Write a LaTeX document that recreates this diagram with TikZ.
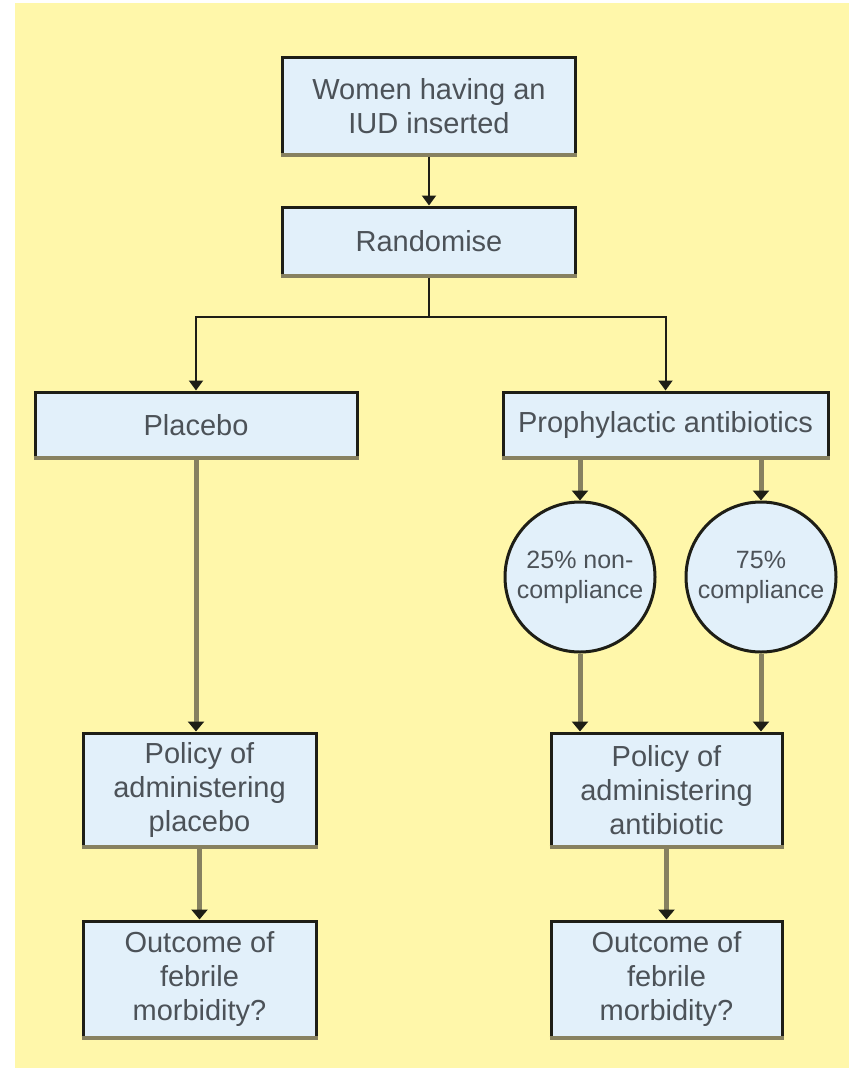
\documentclass[tikz,border=0pt]{standalone}
\usepackage{fontspec}
\setmainfont{Liberation Sans}
\usetikzlibrary{arrows.meta}
\definecolor{paper}{HTML}{FFF7AA}
\definecolor{boxfill}{HTML}{E2F0FA}
\definecolor{ink}{HTML}{1E1E16}
\definecolor{textgray}{HTML}{4C5258}
\definecolor{olive}{HTML}{878160}
\begin{document}
\begin{tikzpicture}[x=1pt,y=-1pt,
  box/.style={rectangle, draw=ink, line width=3pt, fill=boxfill, align=center,
    text=textgray, inner sep=0pt, font=\fontsize{29}{34}\selectfont},
  ring/.style={circle, draw=ink, line width=3pt, fill=boxfill, align=center,
    text=textgray, inner sep=0pt, minimum size=150pt, font=\fontsize{25}{30}\selectfont},
  thinlink/.style={draw=ink, line width=2pt, -{Triangle[length=10pt,width=14pt]}},
  thicklink/.style={draw=olive, line width=5pt, -{Triangle[length=10pt,width=16pt,color=ink]}},
  lowedge/.style={draw=olive, line width=4pt},
]
% page and yellow panel
\useasboundingbox (0,0) rectangle (854,1068);
\fill[white] (0,0) rectangle (854,1068);
\fill[paper] (15,3) rectangle (849,1068);

% boxes
\node[box, minimum width=293pt, minimum height=98pt] (women) at (429,106)
  {Women having an\\IUD inserted};
\node[box, minimum width=293pt, minimum height=69pt] (rand) at (429,241.5)
  {Randomise};
\node[box, minimum width=322pt, minimum height=66pt] (placebo) at (196,425)
  {Placebo};
\node[box, minimum width=325pt, minimum height=66pt] (proph) at (665.5,425)
  {Prophylactic antibiotics};
\node[ring] (noncomp) at (580,577) {25\% non-\\compliance};
\node[ring] (comp) at (761,577) {75\%\\compliance};
\node[box, minimum width=233pt, minimum height=114pt] (policyP) at (199.5,790)
  {Policy of\\administering\\placebo};
\node[box, minimum width=233pt, minimum height=117pt] (outcomeP) at (199.5,979.5)
  {Outcome of\\febrile\\morbidity?};
\node[box, minimum width=231pt, minimum height=114pt] (policyA) at (666.5,790)
  {Policy of\\administering\\antibiotic};
\node[box, minimum width=231pt, minimum height=117pt] (outcomeA) at (666.5,979.5)
  {Outcome of\\febrile\\morbidity?};

% grey lower edges of the boxes
\foreach \n in {women,rand,placebo,proph,policyP,outcomeP,policyA,outcomeA}
  \draw[lowedge] ([yshift=1.5pt]\n.south west) -- ([yshift=1.5pt]\n.south east);

% randomisation connectors
\coordinate (split) at (429,317);
\draw[thinlink] (women) -- (rand);
\draw[thinlink] (rand.south) -- (split) -| (placebo.north);
\draw[thinlink] (split) -| (proph.north);

% follow-up connectors
\draw[thicklink] (placebo.south) -- (placebo.south |- policyP.north);
\draw[thicklink] (noncomp.north |- proph.south) -- (noncomp.north);
\draw[thicklink] (comp.north |- proph.south) -- (comp.north);
\draw[thicklink] (noncomp.south) -- (noncomp.south |- policyA.north);
\draw[thicklink] (comp.south) -- (comp.south |- policyA.north);
\draw[thicklink] (policyP) -- (outcomeP);
\draw[thicklink] (policyA) -- (outcomeA);
\end{tikzpicture}
\end{document}
